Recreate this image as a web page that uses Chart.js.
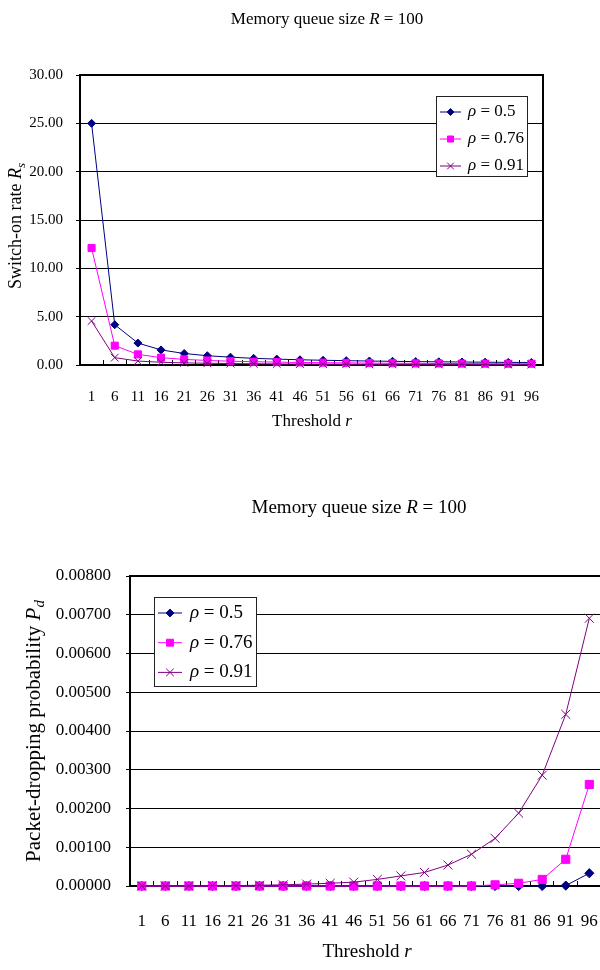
<!DOCTYPE html>
<html>
<head>
<meta charset="utf-8">
<script src="https://cdn.jsdelivr.net/npm/chart.js@4.4.1/dist/chart.umd.min.js"></script>
<style>
  html, body { margin: 0; padding: 0; background: #fff; overflow: hidden; }
  #wrap { position: relative; width: 600px; height: 970px; overflow: hidden; }
  canvas { position: absolute; left: 0; }
  #rate-chart { top: 0; }
  #drop-chart { top: 470px; }
</style>
</head>
<body>
<div id="wrap">
  <canvas id="rate-chart" width="600" height="470"></canvas>
  <canvas id="drop-chart" width="628" height="500"></canvas>
</div>
<script>
const thresholds = ['1', '6', '11', '16', '21', '26', '31', '36', '41', '46', '51', '56', '61', '66', '71', '76', '81', '86', '91', '96'];
const rhoValues = ['0.5', '0.76', '0.91'];

// switch-on rate R_s
const rate05 = [25.00, 4.17, 2.27, 1.56, 1.19, 0.96, 0.81, 0.69, 0.61, 0.54, 0.49, 0.45, 0.41, 0.38, 0.35, 0.33, 0.31, 0.29, 0.27, 0.26];
const rate076 = [12.10, 2.00, 1.10, 0.76, 0.58, 0.47, 0.39, 0.34, 0.30, 0.26, 0.24, 0.22, 0.20, 0.18, 0.17, 0.16, 0.15, 0.14, 0.13, 0.13];
const rate091 = [4.55, 0.76, 0.41, 0.28, 0.22, 0.18, 0.15, 0.13, 0.11, 0.10, 0.09, 0.08, 0.07, 0.07, 0.06, 0.06, 0.06, 0.05, 0.05, 0.05];

// packet-dropping probability P_d
const drop05 = [0, 0, 0, 0, 0, 0, 0, 0, 0, 0, 0, 0, 0, 0, 0, 0, 0, 0, 0.00001, 0.00033];
const drop076 = [0, 0, 0, 0, 0, 0, 0, 0, 0, 0, 0, 0, 0, 0, 0, 0.00003, 0.00007, 0.00017, 0.00069, 0.00262];
const drop091 = [0, 0, 0, 0.00001, 0.00001, 0.00002, 0.00003, 0.00005, 0.00007, 0.00010, 0.00017, 0.00026, 0.00035, 0.00054, 0.00082, 0.00123, 0.00188, 0.00286, 0.00443, 0.00691];

const SERIF = "'Liberation Serif', 'Times New Roman', serif";

const seriesStyles = [
  { color: '#000080', pointStyle: 'rectRot', radius: 4, order: 3 },
  { color: '#FF00FF', pointStyle: 'rect', radius: 5, order: 2 },
  { color: '#800080', pointStyle: 'crossRot', radius: 5.5, order: 1 },
];

const titleParts = [{ text: 'Memory queue size ' }, { text: 'R', italic: true }, { text: ' = 100' }];
const xTitleParts = [{ text: 'Threshold ' }, { text: 'r', italic: true }];
const rateTitleParts = [{ text: 'Switch-on rate ' }, { text: 'R', italic: true }, { text: 's', italic: true, sub: true }];
const dropTitleParts = [{ text: 'Packet-dropping probability ' }, { text: 'P', italic: true }, { text: 'd', italic: true, sub: true }];

function drawRich(ctx, parts, x, y, size, opts = {}) {
  ctx.save();
  ctx.translate(x, y);
  if (opts.rotate) ctx.rotate(-Math.PI / 2);
  const fontOf = (p) => `${p.italic ? 'italic ' : ''}${p.sub ? Math.round(size * 0.7) : size}px ${SERIF}`;
  let total = 0;
  parts.forEach((p) => { ctx.font = fontOf(p); total += ctx.measureText(p.text).width; });
  let cx = opts.left ? 0 : -total / 2;
  ctx.fillStyle = '#000';
  ctx.textBaseline = 'middle';
  ctx.textAlign = 'left';
  parts.forEach((p) => {
    ctx.font = fontOf(p);
    ctx.fillText(p.text, cx, p.sub ? size * 0.3 : 0);
    cx += ctx.measureText(p.text).width;
  });
  ctx.restore();
}

function makeDecor(cfg) {
  return {
    id: 'decor',
    beforeDatasetsDraw(chart) {
      const { ctx, chartArea: a } = chart;
      ctx.save();
      ctx.strokeStyle = '#000';
      ctx.lineWidth = 2;
      ctx.strokeRect(a.left, a.top, a.right - a.left, a.bottom - a.top);
      ctx.restore();
    },
    afterDraw(chart) {
      const ctx = chart.ctx;
      drawRich(ctx, titleParts, cfg.title.x, cfg.title.y, cfg.title.size);
      drawRich(ctx, xTitleParts, cfg.xTitle.x, cfg.xTitle.y, cfg.xTitle.size);
      drawRich(ctx, cfg.yTitle.parts, cfg.yTitle.x, cfg.yTitle.y, cfg.yTitle.size, { rotate: true });

      const lg = cfg.legend;
      ctx.save();
      ctx.fillStyle = '#fff';
      ctx.fillRect(lg.x, lg.y, lg.w, lg.h);
      ctx.strokeStyle = '#222';
      ctx.lineWidth = 1;
      ctx.strokeRect(lg.x + 0.5, lg.y + 0.5, lg.w, lg.h);
      chart.data.datasets.forEach((ds, i) => {
        const yy = lg.y + lg.first + i * lg.rowH;
        ctx.strokeStyle = ds.borderColor;
        ctx.fillStyle = ds.borderColor;
        ctx.lineWidth = 1;
        ctx.beginPath();
        ctx.moveTo(lg.x + lg.lineX, yy);
        ctx.lineTo(lg.x + lg.lineX + lg.lineW, yy);
        ctx.stroke();
        Chart.helpers.drawPoint(ctx, { pointStyle: ds.pointStyle, radius: ds.pointRadius * 0.85, rotation: 0, borderWidth: 1 }, lg.x + lg.lineX + lg.lineW / 2, yy);
        drawRich(ctx, [{ text: 'ρ', italic: true }, { text: ' = ' + rhoValues[i] }], lg.x + lg.textX, yy, lg.size, { left: true });
      });
      ctx.restore();
    },
  };
}

function buildDatasets(seriesList, scale) {
  return seriesList.map((data, i) => {
    const s = seriesStyles[i];
    return {
      label: 'ρ = ' + rhoValues[i],
      data,
      borderColor: s.color,
      backgroundColor: s.color,
      pointBackgroundColor: s.color,
      pointBorderColor: s.color,
      pointStyle: s.pointStyle,
      pointRadius: s.radius * scale,
      pointBorderWidth: 1,
      borderWidth: 1,
      tension: 0,
      order: s.order,
      clip: false,
    };
  });
}

function makeChart(canvasId, seriesList, axis, decor) {
  const ctx = document.getElementById(canvasId).getContext('2d');
  return new Chart(ctx, {
    type: 'line',
    data: { labels: thresholds, datasets: buildDatasets(seriesList, axis.markerScale) },
    options: {
      responsive: false,
      animation: false,
      events: [],
      layout: { padding: axis.padding },
      plugins: { legend: { display: false }, tooltip: { enabled: false } },
      scales: {
        x: {
          offset: true,
          border: { display: false },
          grid: { offset: true, drawOnChartArea: false, tickLength: -5, color: '#000', lineWidth: 1 },
          ticks: { color: '#000', font: { family: SERIF, size: axis.tickSize }, padding: axis.xPad, maxRotation: 0, autoSkip: false },
          afterFit(scale) { scale.height = 60; },
        },
        y: {
          min: 0,
          max: axis.max,
          border: { display: false },
          grid: { color: '#000', lineWidth: 1, tickLength: 4 },
          ticks: {
            stepSize: axis.step,
            color: '#000',
            font: { family: SERIF, size: axis.tickSize },
            padding: axis.yPad,
            callback: (v) => Number(v).toFixed(axis.digits),
          },
          afterFit(scale) { scale.width = axis.yWidth; },
        },
      },
    },
    plugins: [makeDecor(decor)],
  });
}

makeChart('rate-chart', [rate05, rate076, rate091], {
  max: 30, step: 5, digits: 2, tickSize: 15, yWidth: 80, xPad: 28, yPad: 13, markerScale: 1,
  padding: { left: 0, top: 75, right: 57, bottom: 45 },
}, {
  title: { x: 327, y: 20, size: 17 },
  xTitle: { x: 312, y: 422, size: 17 },
  yTitle: { parts: rateTitleParts, x: 16, y: 226, size: 18 },
  legend: { x: 436, y: 96, w: 91, h: 80, first: 16, rowH: 27, lineX: 4, lineW: 21, textX: 32, size: 17 },
});

// right edge of this plot sits just past the page edge, as in the source figure
makeChart('drop-chart', [drop05, drop076, drop091], {
  max: 0.008, step: 0.001, digits: 5, tickSize: 17, yWidth: 130, xPad: 30, yPad: 15, markerScale: 1.15,
  padding: { left: 0, top: 106, right: 0, bottom: 24 },
}, {
  title: { x: 359, y: 38, size: 19 },
  xTitle: { x: 367, y: 482, size: 19 },
  yTitle: { parts: dropTitleParts, x: 34, y: 261, size: 21 },
  legend: { x: 154, y: 127, w: 102, h: 89, first: 16, rowH: 29.7, lineX: 4, lineW: 24, textX: 36, size: 19 },
});
</script>
</body>
</html>
